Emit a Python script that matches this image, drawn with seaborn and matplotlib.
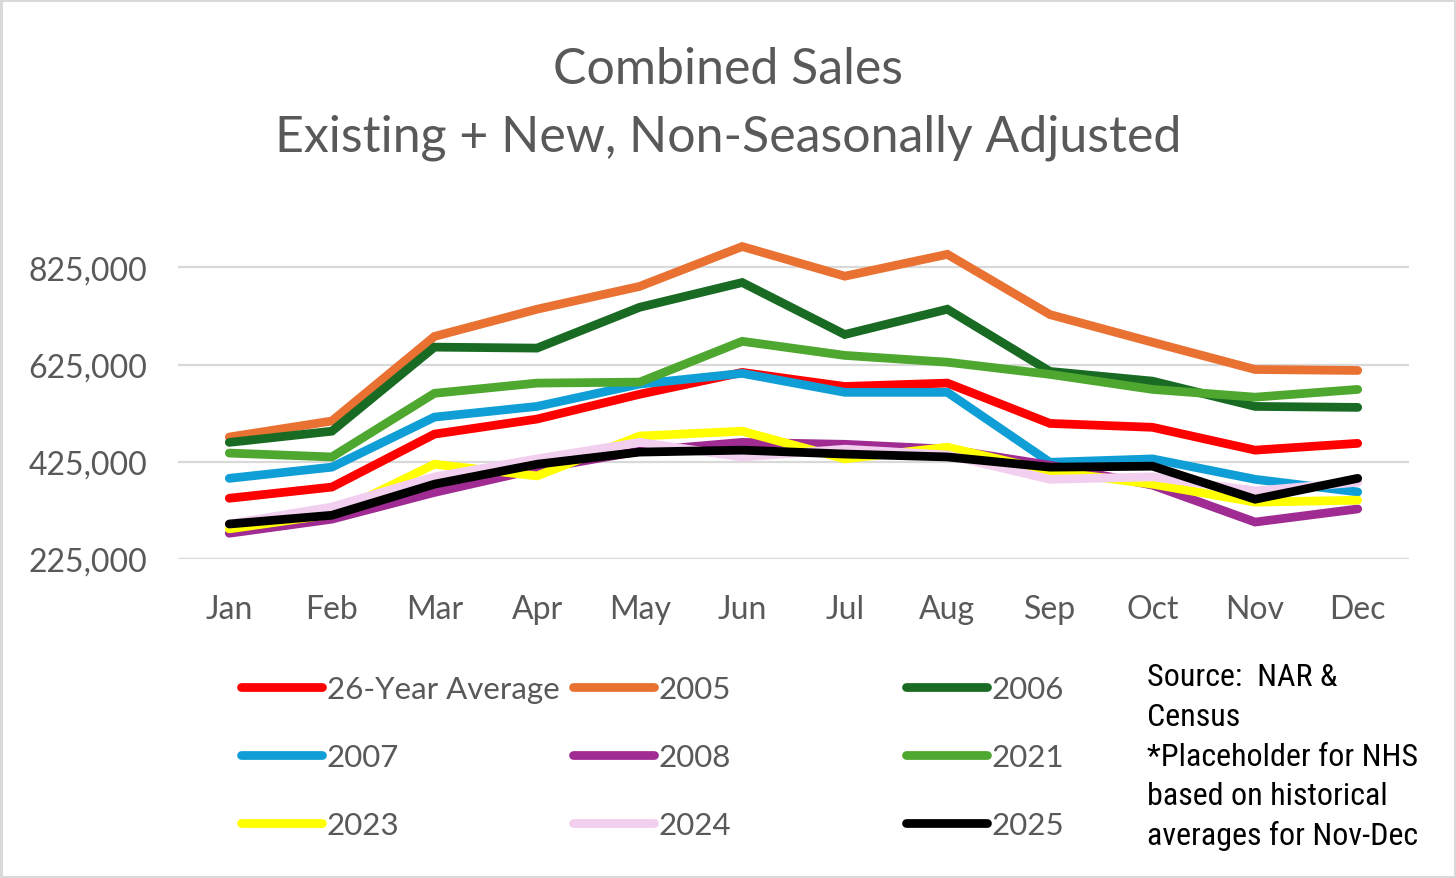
import matplotlib
matplotlib.use("Agg")
import matplotlib.pyplot as plt
from matplotlib import font_manager
from matplotlib.lines import Line2D
import seaborn as sns
import pandas as pd
import numpy as np

months = ["Jan", "Feb", "Mar", "Apr", "May", "Jun", "Jul", "Aug", "Sep", "Oct", "Nov", "Dec"]

avg_26yr = [350000, 373000, 482000, 513000, 564000, 609000, 580000, 587000, 504000, 496000, 449000, 463000]
y2005 = [476000, 509000, 683000, 739000, 786000, 868000, 807000, 852000, 728000, 671000, 615000, 613000]
y2006 = [465000, 488000, 661000, 659000, 743000, 794000, 687000, 739000, 611000, 591000, 539000, 537000]
y2007 = [391000, 414000, 517000, 539000, 585000, 607000, 568000, 568000, 424000, 431000, 389000, 363000]
y2008 = [278000, 307000, 362000, 410000, 447000, 465000, 461000, 451000, 418000, 377000, 301000, 328000]
y2021 = [443000, 435000, 566000, 587000, 589000, 673000, 644000, 630000, 605000, 574000, 558000, 574000]
y2023 = [287000, 317000, 420000, 396000, 478000, 488000, 431000, 455000, 406000, 379000, 342000, 346000]
y2024 = [297000, 332000, 394000, 431000, 465000, 435000, 451000, 439000, 389000, 394000, 365000, 383000]
y2025 = [297000, 315000, 379000, 420000, 445000, 449000, 441000, 435000, 414000, 416000, 348000, 391000]

series_names = ["26-Year Average", "2005", "2006", "2007", "2008", "2021", "2023", "2024", "2025"]
series_values = [avg_26yr, y2005, y2006, y2007, y2008, y2021, y2023, y2024, y2025]
colors = ["#FF0000", "#E97132", "#196B24", "#0F9ED5", "#A02B93", "#4EA72E", "#FFFF00", "#F2CEEF", "#000000"]

y_ticks = [225000, 425000, 625000, 825000]

source_lines = ["Source:  NAR &", "Census", "*Placeholder for NHS", "based on historical", "averages for Nov-Dec"]

# ---------------------------------------------------------------
available = {f.name for f in font_manager.fontManager.ttflist}
def pick(*names):
    for n in names:
        if n in available:
            return n
    return "DejaVu Sans"

main_font = pick("Lato", "Open Sans", "Roboto", "Liberation Sans")
narrow_font = pick("Liberation Sans Narrow", "Roboto Condensed", "Lato", "Liberation Sans")

sns.set_theme(style="white")
plt.rcParams["font.family"] = [main_font, "DejaVu Sans"]

rows = []
for name, vals in zip(series_names, series_values):
    for i, v in enumerate(vals):
        rows.append({"month": i, "series": name, "value": v})
df = pd.DataFrame(rows)

fig = plt.figure(figsize=(14.56, 8.79), dpi=100)
ax = fig.add_axes([178 / 1456, 1 - 560 / 879, (1409 - 178) / 1456, (560 - 232) / 879])

sns.lineplot(data=df, x="month", y="value", hue="series", hue_order=series_names,
             palette=dict(zip(series_names, colors)), linewidth=6.3, legend=False,
             sort=False, ax=ax)
for ln in ax.lines:
    ln.set_solid_capstyle("round")
    ln.set_solid_joinstyle("miter")

ax.set_xlim(-0.5, 11.5)
ax.set_ylim(225000, 900000)
ax.set_yticks(y_ticks)
ax.set_yticklabels([f"{v:,}" for v in y_ticks])
ax.set_xticks(range(12))
ax.set_xticklabels(months)
ax.set_xlabel("")
ax.set_ylabel("")
ax.grid(axis="y", color="#D9D9D9", linewidth=1.6)
ax.grid(axis="x", visible=False)
ax.set_axisbelow(True)
for s in ax.spines.values():
    s.set_visible(False)
ax.tick_params(axis="y", length=0, pad=22, labelsize=23, labelcolor="#595959")
ax.tick_params(axis="x", length=0, pad=25, labelsize=23, labelcolor="#595959")

fig.text(0.5, 1 - 70 / 879, "Combined Sales", ha="center", va="center", fontsize=36, color="#595959")
fig.text(0.5, 1 - 138 / 879, "Existing + New, Non-Seasonally Adjusted", ha="center", va="center",
         fontsize=36, color="#595959")

# legend: three separate columns, row-wise order
handles = [Line2D([0], [0], color=c, lw=6.3, solid_capstyle="round") for c in colors]
col_x = [241 / 1456, 573 / 1456, 906 / 1456]
for c in range(3):
    idx = [c, c + 3, c + 6]
    leg = fig.legend([handles[i] for i in idx], [series_names[i] for i in idx],
                     loc="upper left", bbox_to_anchor=(col_x[c], 1 - 676 / 879),
                     frameon=False, fontsize=22.5, handlelength=2.6, handletextpad=0.15,
                     labelspacing=1.28, borderaxespad=0, borderpad=0)
    for t in leg.get_texts():
        t.set_color("#595959")

for k, line in enumerate(source_lines):
    fig.text(1147 / 1456, 1 - (678 + k * 39.6) / 879, line, ha="left", va="center",
             fontsize=23, color="#000000", family=[narrow_font, "DejaVu Sans"])

fig.patch.set_edgecolor("#D9D9D9")
fig.patch.set_linewidth(2.5)
fig.savefig("out.png", dpi=100, facecolor="white", edgecolor=fig.patch.get_edgecolor())
